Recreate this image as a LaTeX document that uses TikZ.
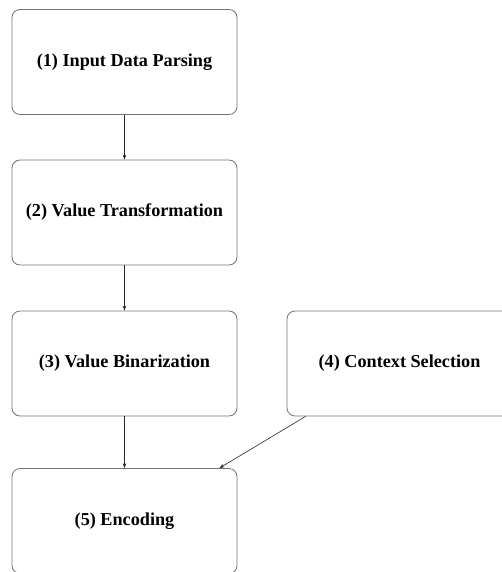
\documentclass[tikz,border=0pt]{standalone}
\usepackage{fontspec}
\setmainfont{Liberation Serif}
\usetikzlibrary{arrows.meta}
\begin{document}
\begin{tikzpicture}[x=1pt,y=-1pt,
  stagebox/.style={draw=black!55, line width=0.8pt, rounded corners=8pt, minimum width=225pt, minimum height=105pt, inner sep=0pt, font=\fontsize{18.2}{21}\selectfont\bfseries, align=center},
  flow/.style={draw=black!85, line width=0.6pt, -{Stealth[length=5pt,width=3.5pt]}}]
\useasboundingbox (0,0) rectangle (501,572);
\node[stagebox] (b1) at (124.5,62) {(1) Input Data Parsing};
\node[stagebox] (b2) at (124.5,212.5) {(2) Value Transformation};
\node[stagebox] (b3) at (124.5,363.5) {(3) Value Binarization};
\node[stagebox] (b4) at (399.5,363.5) {(4) Context Selection};
\node[stagebox] (b5) at (124.5,521) {(5) Encoding};
\draw[flow] (b1) -- (b2);
\draw[flow] (b2) -- (b3);
\draw[flow] (b3) -- (b5);
\draw[flow] ([xshift=19pt]b4.south west) -- ([xshift=-18pt]b5.north east);
\end{tikzpicture}
\end{document}
